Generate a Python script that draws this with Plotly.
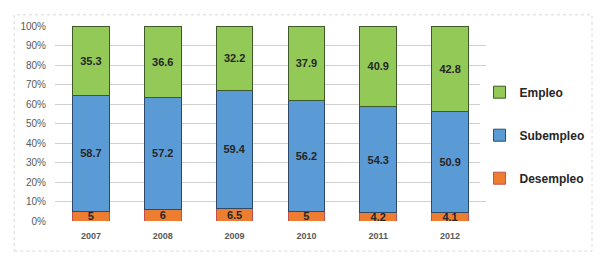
import plotly.graph_objects as go

years = ["2007", "2008", "2009", "2010", "2011", "2012"]
desempleo = [5, 6, 6.5, 5, 4.2, 4.1]
subempleo = [58.7, 57.2, 59.4, 56.2, 54.3, 50.9]
empleo = [35.3, 36.6, 32.2, 37.9, 40.9, 42.8]
y_ticks = [0, 10, 20, 30, 40, 50, 60, 70, 80, 90, 100]
y_tick_labels = [f"{v}%" for v in y_ticks]

series = [
    ("Desempleo", desempleo, "#ED7D31", "#C0504D", 3),
    ("Subempleo", subempleo, "#5B9BD5", "#2E4A6B", 2),
    ("Empleo", empleo, "#92C957", "#3F5A2A", 1),
]

fig = go.Figure()
for name, vals, color, line, rank in series:
    fig.add_trace(go.Bar(
        x=years, y=vals, name=name, legendgroup=name, legendrank=rank,
        marker=dict(color=color, line=dict(color=line, width=1)),
        text=[f"{v:g}" for v in vals],
        textposition="inside", insidetextanchor="middle",
        constraintext="none", textangle=0,
        textfont=dict(family="Liberation Sans", size=11, color="#262626", weight="bold"),
        width=0.51,
    ))

# The page body adds an 8px offset (top/left); the figure is sized so that
# the visible page area matches the 602x257 reference.
W, H = 594, 249
L, R, T, B = 42, 113, 12, 36
PW, PH = W - L - R, H - T - B
BORDER_R, BORDER_B = 589, 244  # figure-pixel right / bottom of the frame

fig.update_layout(
    barmode="stack", barnorm="percent",
    width=W, height=H,
    margin=dict(l=L, r=R, t=T, b=B),
    paper_bgcolor="white", plot_bgcolor="white",
    font=dict(family="Liberation Sans", color="#595959"),
    uniformtext=dict(mode="show", minsize=11),
    legend=dict(
        x=0.985, xanchor="left", y=0.44, yanchor="middle",
        traceorder="grouped", tracegroupgap=24,
        font=dict(size=12, color="#262626", family="Liberation Sans", weight="bold"),
        itemwidth=30,
    ),
    shapes=[dict(type="rect", xref="paper", yref="paper",
                 x0=(0.5 - L) / PW, x1=(BORDER_R - L) / PW,
                 y0=(T + PH - BORDER_B) / PH, y1=(T + PH - 0.5) / PH,
                 line=dict(color="#D9D9D9", width=1, dash="dot"))],
)
fig.update_yaxes(
    range=[0, 100], tickvals=y_ticks, ticktext=y_tick_labels,
    showgrid=True, gridcolor="#D0D0D0", gridwidth=1,
    zeroline=False, showline=False,
    tickfont=dict(size=10, color="#595959"), ticks="", ticklabelstandoff=8,
)
fig.update_xaxes(
    showline=False, showgrid=False,
    tickfont=dict(size=9, color="#595959", weight="bold"),
    ticks="", ticklabelstandoff=8,
)

fig.write_html("out.html")
